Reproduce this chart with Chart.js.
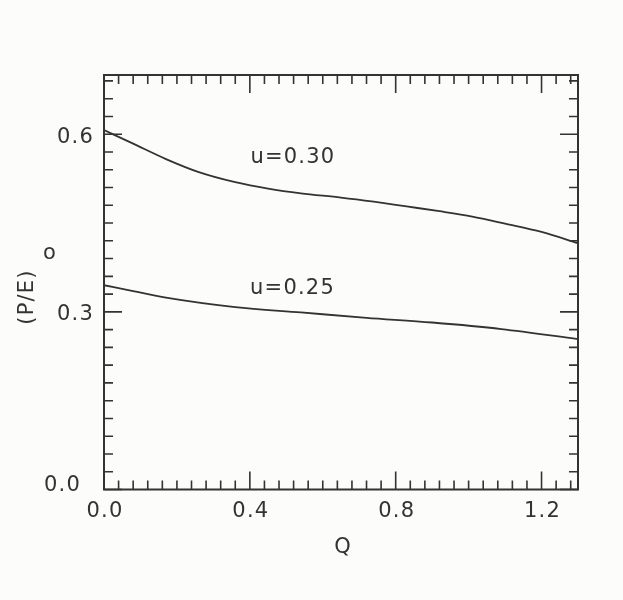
<!DOCTYPE html>
<html>
<head>
<meta charset="utf-8">
<script src="https://cdn.jsdelivr.net/npm/chart.js@4"></script>
<style>
  html, body { margin: 0; padding: 0; background: #fcfcfa; }
  #wrap { width: 623px; height: 600px; }
</style>
</head>
<body>
<div id="wrap"><canvas id="plot" width="623" height="600"></canvas></div>
<script>
// values
const qU30 = [0, 0.08, 0.17, 0.26, 0.36, 0.45, 0.54, 0.65, 0.74, 0.83, 0.92, 1.01, 1.10, 1.20, 1.30];
const peU30 = [0.607, 0.584, 0.558, 0.536, 0.519, 0.508, 0.500, 0.493, 0.486, 0.478, 0.470, 0.461, 0.449, 0.435, 0.416];
const qU25 = [0, 0.08, 0.17, 0.36, 0.54, 0.72, 0.90, 1.09, 1.30];
const peU25 = [0.345, 0.335, 0.324, 0.308, 0.299, 0.290, 0.282, 0.271, 0.254];

const curveLabels = ['u=0.30', 'u=0.25'];
const labelQ = [0.518, 0.517];
const labelPE = [0.561, 0.340];

const xTickValues = [0, 0.4, 0.8, 1.2];
const xTickLabels = ['0.0', '0.4', '0.8', '1.2'];
const yTickValues = [0, 0.3, 0.6];
const yTickLabels = ['0.0', '0.3', '0.6'];
const xTitle = 'Q';
const yTitle = '(P/E)';
const yTitleSub = 'o';

const ink = '#333333';
const font = '21px "DejaVu Sans"';

function toPoints(xs, ys) {
    return xs.map((q, i) => ({ x: q, y: ys[i] }));
}

const frame = {
    id: 'frame',
    afterDatasetsDraw(chart) {
        const { ctx, chartArea: a, scales: { x, y } } = chart;
        ctx.save();
        ctx.strokeStyle = ink;
        ctx.lineWidth = 2;
        ctx.strokeRect(a.left, a.top, a.right - a.left, a.bottom - a.top);

        // inward ticks on all four sides
        ctx.lineWidth = 1.6;
        ctx.beginPath();
        for (let i = 0; i <= 32; i++) {
            const px = x.getPixelForValue(i * 0.04);
            const len = (i % 10 === 0) ? 18 : 9;
            ctx.moveTo(px, a.bottom); ctx.lineTo(px, a.bottom - len);
            ctx.moveTo(px, a.top); ctx.lineTo(px, a.top + len);
        }
        for (let i = 0; i <= 23; i++) {
            const py = y.getPixelForValue(i * 0.03);
            const len = (i % 10 === 0) ? 18 : 9;
            ctx.moveTo(a.left, py); ctx.lineTo(a.left + len, py);
            ctx.moveTo(a.right, py); ctx.lineTo(a.right - len, py);
        }
        ctx.stroke();

        ctx.fillStyle = ink;
        ctx.font = font;
        ctx.letterSpacing = '1.2px';
        ctx.textBaseline = 'middle';

        ctx.textAlign = 'center';
        xTickValues.forEach((v, i) => {
            ctx.fillText(xTickLabels[i], x.getPixelForValue(v) + 1, a.bottom + 22);
        });

        ctx.textAlign = 'right';
        yTickValues.forEach((v, i) => {
            const shift = v === 0 ? 13 : 0;
            const lift = v === 0 ? 7 : 0;
            ctx.fillText(yTickLabels[i], a.left - 10 - shift, y.getPixelForValue(v) + 3 - lift);
        });

        ctx.textAlign = 'center';
        ctx.fillText(xTitle, (a.left + a.right) / 2 + 2, a.bottom + 58);

        curveLabels.forEach((t, i) => {
            ctx.fillText(t, x.getPixelForValue(labelQ[i]), y.getPixelForValue(labelPE[i]));
        });

        ctx.save();
        ctx.translate(28, 297);
        ctx.rotate(-Math.PI / 2);
        ctx.fillText(yTitle, 0, 0);
        ctx.restore();
        ctx.fillText(yTitleSub, 50, 254);
        ctx.restore();
    }
};

new Chart(document.getElementById('plot'), {
    type: 'line',
    data: {
        datasets: [{
            label: curveLabels[0],
            data: toPoints(qU30, peU30),
            borderColor: ink,
            borderWidth: 1.8,
            pointRadius: 0,
            cubicInterpolationMode: 'monotone',
            fill: false
        }, {
            label: curveLabels[1],
            data: toPoints(qU25, peU25),
            borderColor: ink,
            borderWidth: 1.8,
            pointRadius: 0,
            cubicInterpolationMode: 'monotone',
            fill: false
        }]
    },
    options: {
        responsive: false,
        devicePixelRatio: 1,
        animation: false,
        layout: { padding: { left: 104, right: 45, top: 75, bottom: 110.5 } },
        plugins: { legend: { display: false }, tooltip: { enabled: false } },
        scales: {
            x: { type: 'linear', min: 0, max: 1.3, display: false },
            y: { type: 'linear', min: 0, max: 0.7, display: false }
        }
    },
    plugins: [frame]
});
</script>
</body>
</html>
